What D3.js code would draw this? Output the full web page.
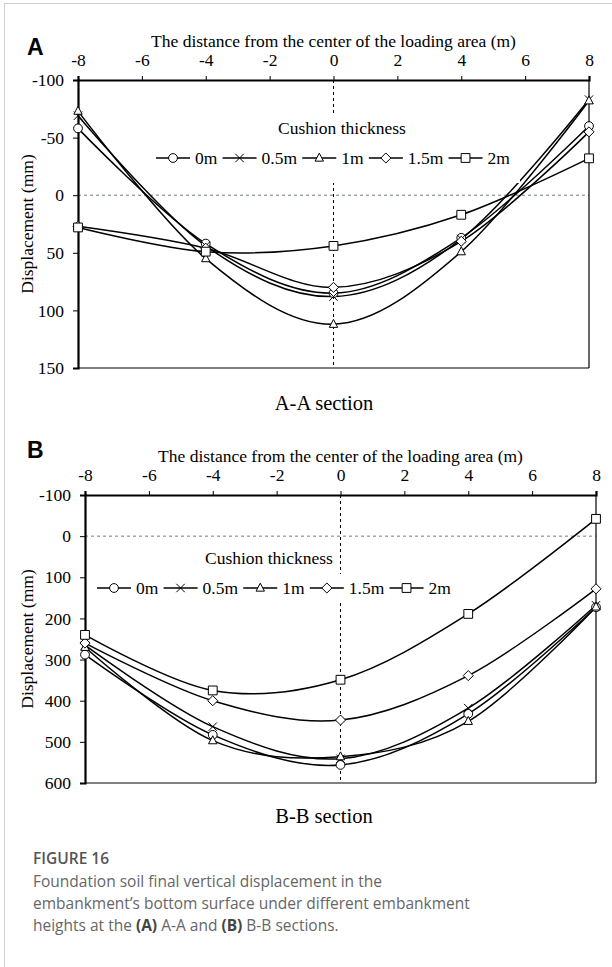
<!DOCTYPE html>
<html>
<head>
<meta charset="utf-8">
<script src="https://cdn.jsdelivr.net/npm/d3@7/dist/d3.min.js"></script>
<style>
  html, body { margin: 0; padding: 0; background: #fff; }
  svg { display: block; }
</style>
</head>
<body>
<script>
// ---------------- DATA ----------------
const xValues = [-8, -4, 0, 4, 8];
const seriesNames = ["0m", "0.5m", "1m", "1.5m", "2m"];
const markerTypes = ["circle", "cross", "triangle", "diamond", "square"];
const xTicks = [-8, -6, -4, -2, 0, 2, 4, 6, 8];

// Panel A (A-A section), displacement in mm
const a0m  = [-58, 42, 85, 37, -60];
const a05m = [-69, 44, 88, 38, -83];
const a1m  = [-73, 55, 112, 49, -82];
const a15m = [27, 46, 80, 40, -55];
const a2m  = [28, 49, 44, 17, -32];
const aYTicks = [-100, -50, 0, 50, 100, 150];

// Panel B (B-B section)
const b0m  = [288, 483, 556, 432, 173];
const b05m = [265, 463, 541, 418, 168];
const b1m  = [270, 497, 536, 450, 172];
const b15m = [260, 400, 447, 339, 128];
const b2m  = [240, 375, 349, 189, -42];
const bYTicks = [-100, 0, 100, 200, 300, 400, 500, 600];

const xTitle = "The distance from the center of the loading area (m)";
const yTitle = "Displacement (mm)";
const legendTitle = "Cushion thickness";

// ---------------- LAYOUT ----------------
const W = 612, H = 967;
const svg = d3.select("body").append("svg").attr("width", W).attr("height", H);
svg.append("rect").attr("width", W).attr("height", H).attr("fill", "#fff");
// frame border
svg.append("line").attr("x1", 4.5).attr("x2", 4.5).attr("y1", 3).attr("y2", H).attr("stroke", "#d0d0d0").attr("stroke-width", 1);
svg.append("line").attr("x1", 4).attr("x2", W).attr("y1", 3.5).attr("y2", 3.5).attr("stroke", "#d0d0d0").attr("stroke-width", 1);

const serif = "'Liberation Serif', 'Times New Roman', serif";
const FS = 17.5;

const panels = [
  {
    letter: "A", letterY: 55,
    left: 78, right: 589, top: 80, bottom: 368,
    yDomain: [-100, 150], yTicks: aYTicks,
    series: [a0m, a05m, a1m, a15m, a2m],
    section: "A-A section", sectionY: 410,
    legendTitleX: 278, legendTitleY: 134, legendRowY: 158, legendX: 156,
    legendBg: {x: 150, y: 113, w: 370, h: 70}
  },
  {
    letter: "B", letterY: 458,
    left: 85, right: 596, top: 495, bottom: 783,
    yDomain: [-100, 600], yTicks: bYTicks,
    series: [b0m, b05m, b1m, b15m, b2m],
    section: "B-B section", sectionY: 823,
    legendTitleX: 205, legendTitleY: 564, legendRowY: 588, legendX: 97,
    legendBg: {x: 92, y: 574, w: 362, h: 28}
  }
];

function markerPath(type, s) {
  switch (type) {
    case "triangle": return `M0,${-s*1.15}L${s},${s*0.75}L${-s},${s*0.75}Z`;
    case "diamond": return `M0,${-s*1.2}L${s*1.2},0L0,${s*1.2}L${-s*1.2},0Z`;
    case "square": return `M${-s},${-s}H${s}V${s}H${-s}Z`;
    case "cross": return `M${-s},${-s}L${s},${s}M${-s},${s}L${s},${-s}`;
    default: return null;
  }
}
function drawMarker(g, type, x, y) {
  if (type === "circle") {
    g.append("circle").attr("cx", x).attr("cy", y).attr("r", 4.4)
      .attr("fill", "#fff").attr("stroke", "#000").attr("stroke-width", 1);
  } else {
    g.append("path").attr("transform", `translate(${x},${y})`)
      .attr("d", markerPath(type, type === "square" ? 4.4 : 4.2))
      .attr("fill", type === "cross" ? "none" : "#fff")
      .attr("stroke", "#000").attr("stroke-width", 1);
  }
}

panels.forEach(p => {
  const g = svg.append("g");
  const x = d3.scaleLinear().domain([-8, 8]).range([p.left, p.right]);
  const y = d3.scaleLinear().domain(p.yDomain).range([p.top, p.bottom]);

  // zero lines
  g.append("line").attr("x1", p.left).attr("x2", p.right)
    .attr("y1", y(0)).attr("y2", y(0))
    .attr("stroke", "#6f7a90").attr("stroke-width", 1).attr("stroke-dasharray", "3,3");
  g.append("line").attr("x1", x(0)).attr("x2", x(0))
    .attr("y1", p.top).attr("y2", p.bottom)
    .attr("stroke", "#000").attr("stroke-width", 1).attr("stroke-dasharray", "3,3");

  // right & bottom thin border
  g.append("line").attr("x1", p.right).attr("x2", p.right).attr("y1", p.top).attr("y2", p.bottom)
    .attr("stroke", "#000").attr("stroke-width", 1.2);
  g.append("line").attr("x1", p.left).attr("x2", p.right).attr("y1", p.bottom).attr("y2", p.bottom)
    .attr("stroke", "#000").attr("stroke-width", 1.2);

  // top axis
  const xa = g.append("g").attr("transform", `translate(0,${p.top})`)
    .call(d3.axisTop(x).tickValues(xTicks).tickFormat(d => String(d)).tickSize(4).tickPadding(10));
  xa.select(".domain").attr("stroke-width", 2.2);
  xa.selectAll("text").attr("font-family", serif).attr("font-size", FS).attr("fill", "#000");
  // left axis
  const ya = g.append("g").attr("transform", `translate(${p.left},0)`)
    .call(d3.axisLeft(y).tickValues(p.yTicks).tickFormat(d => String(d)).tickSize(5).tickPadding(9));
  ya.select(".domain").attr("stroke-width", 2.2);
  ya.selectAll("text").attr("font-family", serif).attr("font-size", FS).attr("fill", "#000");

  // titles
  g.append("text").attr("x", (p.left + p.right) / 2).attr("y", p.top - 33)
    .attr("text-anchor", "middle").attr("font-family", serif).attr("font-size", FS)
    .text(xTitle);
  g.append("text").attr("transform", `translate(33,${(p.top + p.bottom) / 2}) rotate(-90)`)
    .attr("text-anchor", "middle").attr("font-family", serif).attr("font-size", FS)
    .text(yTitle);
  g.append("text").attr("x", 27).attr("y", p.letterY)
    .attr("font-family", "'Liberation Sans', Arial, sans-serif").attr("font-weight", "bold")
    .attr("font-size", 23).text(p.letter);
  g.append("text").attr("x", 324).attr("y", p.sectionY).attr("text-anchor", "middle")
    .attr("font-family", serif).attr("font-size", 20.5).text(p.section);

  // series
  const line = d3.line().x((d, i) => x(xValues[i])).y(d => y(d)).curve(d3.curveCardinal.tension(0));
  p.series.forEach((vals) => {
    g.append("path").attr("d", line(vals)).attr("fill", "none")
      .attr("stroke", "#000").attr("stroke-width", 1.5);
  });
  p.series.forEach((vals, si) => {
    vals.forEach((v, i) => drawMarker(g, markerTypes[si], x(xValues[i]), y(v)));
  });

  // legend
  g.append("rect").attr("x", p.legendBg.x).attr("y", p.legendBg.y)
    .attr("width", p.legendBg.w).attr("height", p.legendBg.h).attr("fill", "#fff");
  g.append("text").attr("x", p.legendTitleX).attr("y", p.legendTitleY)
    .attr("font-family", serif).attr("font-size", FS).text(legendTitle);
  let lx = p.legendX;
  seriesNames.forEach((name, si) => {
    const ly = p.legendRowY;
    g.append("line").attr("x1", lx).attr("x2", lx + 34).attr("y1", ly).attr("y2", ly)
      .attr("stroke", "#000").attr("stroke-width", 1.3);
    drawMarker(g, markerTypes[si], lx + 17, ly);
    const t = g.append("text").attr("x", lx + 39).attr("y", ly + 6)
      .attr("font-family", serif).attr("font-size", FS).text(name);
    const w = t.node().getComputedTextLength();
    lx = lx + 39 + w + 5.2;
  });
});

// caption
const cap = svg.append("g").attr("font-family", "'Open Sans', 'Noto Sans', sans-serif");
cap.append("text").attr("x", 33).attr("y", 864).attr("font-size", 15.5).attr("font-weight", 600)
  .attr("fill", "#555").text("FIGURE 16");
const capLines = [
  [["Foundation soil final vertical displacement in the", false]],
  [["embankment’s bottom surface under different embankment", false]],
  [["heights at the ", false], ["(A)", true], [" A-A and ", false], ["(B)", true], [" B-B sections.", false]]
];
capLines.forEach((parts, li) => {
  const t = cap.append("text").attr("x", 33).attr("y", 887 + li * 22).attr("font-size", 15.5).attr("fill", "#666");
  parts.forEach(([s, b]) => {
    const ts = t.append("tspan").text(s);
    if (b) ts.attr("font-weight", 700).attr("fill", "#444");
  });
});
</script>
</body>
</html>
